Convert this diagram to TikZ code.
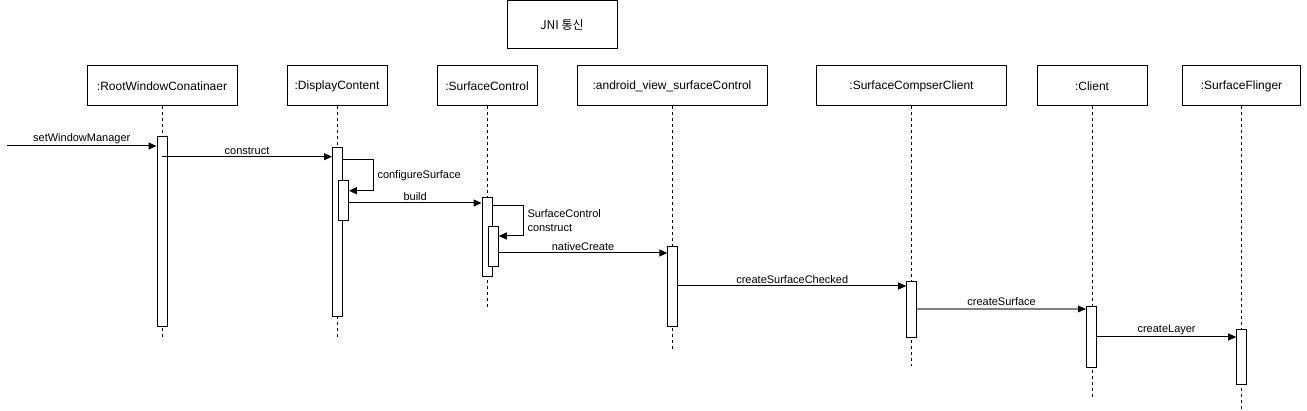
\documentclass[tikz,border=0pt]{standalone}
\usepackage{fontspec}
\setmainfont{Liberation Sans}
\newfontfamily\cjk{Noto Sans CJK KR}
\usepackage{tikz}
\usetikzlibrary{arrows.meta,positioning,calc}

\begin{document}
\begin{tikzpicture}[x=1pt,y=-1pt,
    obj/.style={draw,line width=1pt,minimum height=40pt,inner sep=0pt,font=\fontsize{12}{14}\selectfont},
    bar/.style={draw,fill=white,line width=1pt,minimum width=10pt,inner sep=0pt,anchor=north},
    life/.style={line width=1pt,dash pattern=on 3pt off 3pt},
    msg/.style={line width=1pt,-{Triangle[length=8pt,width=7pt]}},
    lbl/.style={font=\fontsize{11}{13}\selectfont,inner sep=2pt}]
    \useasboundingbox (0,0) rectangle (1307,411);

    % JNI 표시
    \node[obj,minimum width=110pt,minimum height=48pt] (jni) at (562,25) {\cjk JNI 통신};

    % 객체와 생명선
    \foreach \name/\x/\w/\endy/\txt in {
        root/162/150/337/:RootWindowConatinaer,
        disp/337/100/337/:DisplayContent,
        sc/487/100/307/:SurfaceControl,
        avsc/672/190/349/:android\_view\_surfaceControl,
        scc/911.5/190/366/:SurfaceCompserClient,
        cl/1092/110/397/:Client,
        sf/1241.5/118/409/:SurfaceFlinger} {
        \node[obj,minimum width=\w pt] (\name) at (\x,86) {\txt};
        \coordinate (\name end) at (\x,\endy);
        \draw[life] (\name.south) -- (\name end);
    }

    % 활성 막대
    \node[bar,minimum height=190pt] (rootbar) at (162,136) {};
    \node[bar,minimum height=169pt] (dispbar) at (337.5,147) {};
    \node[bar,minimum height=40pt] (dispsub) at (343.3,180) {};
    \node[bar,minimum height=79pt] (scbar) at (487,197) {};
    \node[bar,minimum height=40pt] (scsub) at (493.3,226) {};
    \node[bar,minimum height=80pt] (avscbar) at (672.8,246) {};
    \node[bar,minimum height=56pt] (sccbar) at (911.7,281) {};
    \node[bar,minimum height=61pt] (clbar) at (1091.5,306) {};
    \node[bar,minimum height=55pt] (sfbar) at (1241.7,329) {};

    % 메시지
    \coordinate (start) at (7,146);
    \draw[msg] (start) -- (rootbar.west |- start) node[lbl,midway,above] {setWindowManager};
    \draw[msg] (rootbar.center |- 0,156.7) -- (dispbar.west |- 0,156.7) node[lbl,midway,above] {construct};
    \draw[msg] (dispbar.east |- 0,160) -- (373,160) -- (373,190.7) node[lbl,midway,right=2pt] {configureSurface} -- (dispsub.east |- 0,190.7);
    \draw[msg] (dispsub.east |- 0,203) -- (scbar.west |- 0,203) node[lbl,midway,above] {build};
    \draw[msg] (scbar.east |- 0,206) -- (523,206) -- (523,236) node[lbl,midway,right=2pt,align=left,font=\fontsize{11}{14}\selectfont] {SurfaceControl\\construct} -- (scsub.east |- 0,236);
    \draw[msg] (scsub.east |- 0,253) -- (avscbar.west |- 0,253) node[lbl,midway,above] {nativeCreate};
    \draw[msg] (avscbar.east |- 0,286) -- (sccbar.west |- 0,286) node[lbl,midway,above] {createSurfaceChecked};
    \draw[msg,line width=1.8pt,gray,-{Triangle[length=8pt,width=7pt,color=black,line width=0pt]}] (sccbar.east |- 0,309) -- (clbar.west |- 0,309) node[lbl,midway,above,black] {createSurface};
    \draw[msg] (clbar.east |- 0,337) -- (sfbar.west |- 0,337) node[lbl,midway,above] {createLayer};
\end{tikzpicture}
\end{document}
